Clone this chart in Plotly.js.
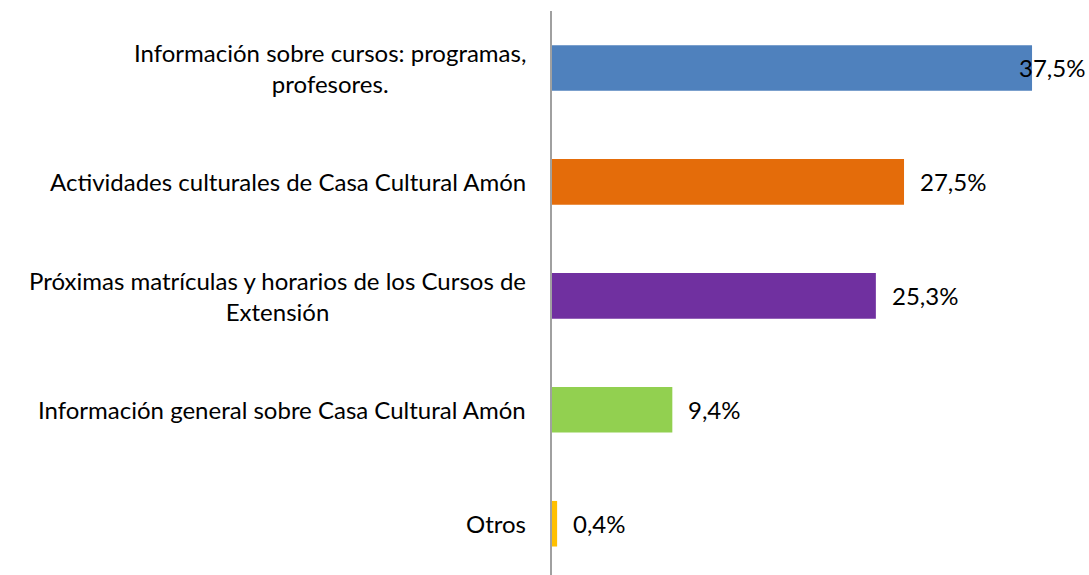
<!DOCTYPE html>
<html>
<head>
<meta charset="utf-8">
<script src="https://cdn.plot.ly/plotly-3.0.1.min.js"></script>
<style>html,body{margin:0;padding:0;background:#fff;}#chart{width:1089px;height:575px;}</style>
</head>
<body>
<div id="chart"></div>
<script>
const categories = [
  "Información sobre cursos: programas,\nprofesores.",
  "Actividades culturales de Casa Cultural Amón",
  "Próximas matrículas y horarios de los Cursos de\nExtensión",
  "Información general sobre Casa Cultural Amón",
  "Otros"
];
const values = [37.5, 27.5, 25.3, 9.4, 0.4];
const barColors = ["#4F81BD", "#E46C0A", "#7030A0", "#92D050", "#FFC000"];

const FONT = "Lato, 'Open Sans', sans-serif";
const FS = 24;
const W = 1089, H = 575, ML = 552, MT = 11;
const xMax = 41.95;

const idx = categories.map((_, i) => i);
const annotations = [];
categories.forEach((c, i) => {
  annotations.push({
    xref: "paper", yref: "y", x: 0, y: i, xanchor: "right", yanchor: "middle",
    xshift: -24, yshift: 0,
    text: c.split("\n").join("<br>"), showarrow: false, align: "center",
    font: {family: FONT, size: FS, color: "#000"}
  });
});
const pxPerUnit = (W - ML) / xMax;
values.forEach((v, i) => {
  const txt = v.toFixed(1).replace(".", ",") + "%";
  const fits = v * pxPerUnit + 16 + 70 < (W - ML);
  annotations.push(fits ? {
    xref: "x", yref: "y", x: v, y: i, xanchor: "left", yanchor: "middle", xshift: 14,
    text: txt, showarrow: false, font: {family: FONT, size: FS, color: "#000"}
  } : {
    xref: "paper", yref: "y", x: 1, y: i, xanchor: "right", yanchor: "middle", xshift: -2,
    text: txt, showarrow: false, font: {family: FONT, size: FS, color: "#000"}
  });
});

Plotly.newPlot("chart", [{
  type: "bar", orientation: "h", x: values, y: idx,
  marker: {color: barColors}, width: 0.4, hoverinfo: "none",
  cliponaxis: false
}], {
  width: W, height: H,
  margin: {l: ML, r: 0, t: MT, b: 0, pad: 0},
  paper_bgcolor: "#fff", plot_bgcolor: "#fff",
  showlegend: false,
  xaxis: {range: [0, xMax], visible: false, fixedrange: true},
  yaxis: {range: [4.45, -0.5], showticklabels: false, showgrid: false, zeroline: false,
          showline: true, linecolor: "#a0a0a0", linewidth: 2, ticks: "", fixedrange: true},
  annotations: annotations,
  font: {family: FONT}
}, {displayModeBar: false, staticPlot: true});
</script>
</body>
</html>
